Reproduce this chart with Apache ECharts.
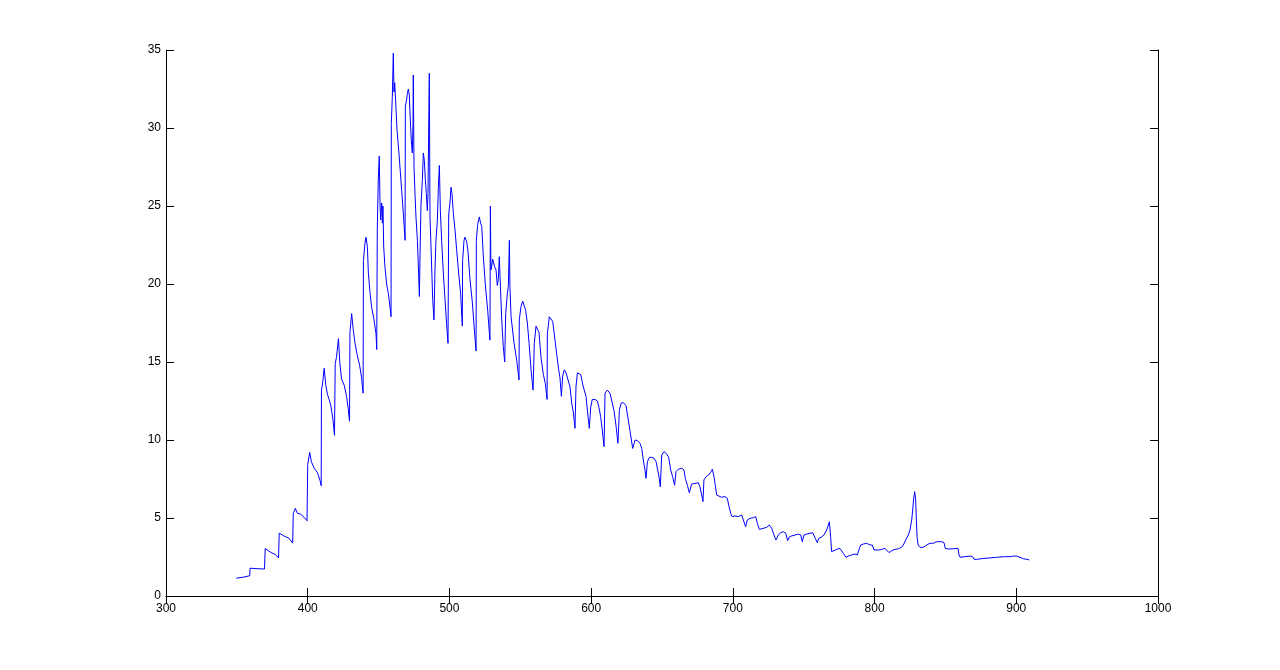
<!DOCTYPE html>
<html>
<head>
<meta charset="utf-8">
<script src="https://cdn.jsdelivr.net/npm/echarts@6/dist/echarts.min.js"></script>
<style>
  html, body { margin: 0; padding: 0; background: #fff; }
  #spectrumChart { width: 1280px; height: 670px; }
</style>
</head>
<body>
<div id="spectrumChart"></div>
<script>
// values
var wavelength = [
  349.6, 354.8, 359.1, 359.3, 364.3, 369.5, 370.0, 371.4, 373.8, 377.3, 379.4,
  379.9, 381.3, 383.2, 386.8, 389.4, 389.8, 391.3, 392.7, 395.0, 397.4, 399.5,
  400.0, 401.4, 402.6, 404.5, 406.9, 408.7, 409.5, 409.7, 410.6, 411.6, 412.8,
  414.0, 415.1, 416.3, 417.7, 418.9, 419.4, 420.3, 421.7, 422.7, 423.9, 425.8,
  427.4, 428.6, 429.5, 429.8, 431.0, 432.2, 433.4, 435.0, 436.6, 438.0, 439.1,
  439.3, 440.4, 441.1, 442.1, 442.8, 444.0, 445.1, 446.8, 448.2, 448.7, 449.1,
  449.8, 450.5, 451.0, 451.5, 452.2, 452.7, 453.1, 453.6, 454.5, 455.7, 456.9,
  458.1, 458.8, 459.0, 459.7, 460.4, 460.9, 461.4, 462.1, 463.0, 464.2, 465.1,
  466.3, 467.5, 468.7, 468.9, 469.8, 470.3, 471.0, 471.7, 472.4, 473.1, 473.8,
  474.3, 474.5, 475.0, 475.7, 476.4, 477.4, 478.1, 478.8, 479.2, 479.9, 480.9,
  481.6, 482.3, 483.0, 483.7, 484.4, 484.9, 485.4, 485.8, 486.3, 487.0, 488.2,
  489.1, 489.8, 490.5, 491.5, 492.2, 492.9, 493.6, 494.5, 495.7, 496.9, 498.1,
  499.0, 499.5, 500.4, 501.1, 501.8, 502.8, 503.9, 505.1, 506.5, 507.9, 509.1,
  509.3, 510.3, 511.0, 512.2, 513.1, 514.5, 516.2, 517.6, 518.8, 519.0, 519.9,
  521.1, 522.0, 522.8, 523.9, 525.3, 527.0, 528.4, 528.6, 528.9, 529.3, 529.8,
  530.5, 531.2, 531.9, 532.9, 533.8, 534.5, 535.2, 535.7, 536.9, 538.0, 539.0,
  539.7, 540.9, 541.6, 542.3, 542.7, 543.5, 545.6, 547.5, 549.1, 549.3, 550.5,
  551.7, 552.6, 553.8, 555.0, 556.2, 557.6, 559.0, 559.9, 561.1, 561.8, 563.2,
  564.6, 566.3, 567.7, 568.9, 569.1, 570.5, 571.7, 572.9, 574.5, 575.7, 577.1,
  578.0, 579.0, 579.9, 581.1, 582.3, 583.7, 585.1, 586.3, 587.4, 588.6, 589.3,
  590.3, 591.7, 592.6, 594.5, 596.4, 597.8, 598.7, 599.7, 600.8, 602.7, 604.4,
  605.5, 606.7, 607.9, 609.1, 609.8, 611.4, 613.3, 614.7, 616.1, 617.5, 618.9,
  619.9, 621.1, 622.7, 624.6, 626.0, 627.4, 629.3, 631.0, 632.6, 634.5, 635.7,
  636.8, 638.0, 638.7, 639.7, 641.1, 642.7, 644.4, 645.8, 647.2, 648.1, 648.8,
  649.8, 651.4, 653.3, 654.7, 656.1, 657.5, 658.9, 659.9, 661.5, 663.9, 665.5,
  666.5, 667.9, 669.3, 670.9, 673.3, 675.6, 676.8, 678.0, 678.9, 679.6, 681.1,
  682.9, 684.6, 685.5, 686.7, 687.6, 688.6, 689.8, 692.1, 694.5, 696.1, 697.3,
  698.5, 699.4, 701.5, 703.9, 706.2, 707.4, 709.0, 710.2, 712.1, 714.5, 716.1,
  717.3, 718.7, 719.2, 723.9, 725.7, 727.4, 729.0, 730.4, 732.1, 733.7, 735.6,
  737.3, 738.7, 739.9, 741.5, 743.9, 746.2, 747.9, 749.0, 750.2, 752.1, 754.4,
  756.3, 757.5, 758.7, 759.6, 760.6, 762.2, 764.3, 766.2, 767.4, 768.1, 769.0,
  769.7, 770.9, 773.3, 775.6, 776.8, 778.0, 779.8, 781.5, 783.8, 786.2, 787.8,
  788.6, 789.3, 790.2, 792.1, 794.4, 796.8, 798.4, 799.6, 800.3, 802.7, 805.0,
  807.4, 808.5, 810.2, 812.1, 814.4, 816.8, 819.1, 820.3, 822.0, 823.8, 825.0,
  826.2, 826.9, 827.6, 828.3, 829.0, 829.5, 830.0, 830.7, 832.1, 834.4, 836.8,
  839.1, 840.3, 841.5, 843.8, 847.4, 849.0, 849.9, 852.1, 855.6, 858.9, 859.6,
  860.3, 863.8, 867.4, 869.2, 870.2, 872.1, 876.8, 881.5, 886.2, 890.9, 895.6,
  897.9, 899.1, 900.3, 902.6, 905.0, 907.3, 909.2
]
var intensity = [
  1.14, 1.21, 1.30, 1.78, 1.75, 1.73, 3.04, 2.97, 2.80, 2.65, 2.44,
  4.03, 4.15, 3.85, 3.70, 3.39, 5.29, 5.62, 5.30, 5.25, 5.05, 4.82,
  8.42, 9.20, 8.60, 8.20, 7.90, 7.40, 7.07, 13.2, 13.7, 14.6, 13.5,
  12.9, 12.6, 12.2, 11.4, 10.3, 14.9, 15.3, 16.5, 14.9, 13.9, 13.5,
  12.8, 12.0, 11.2, 16.9, 18.1, 17.0, 16.2, 15.4, 14.8, 14.0, 13.0,
  21.5, 22.6, 23.0, 22.4, 20.7, 19.4, 18.5, 17.7, 16.8, 15.8, 23.5,
  26.7, 28.2, 25.2, 24.1, 25.2, 23.9, 25.0, 22.4, 21.1, 20.0, 19.4,
  18.5, 17.9, 30.3, 32.0, 34.8, 32.3, 32.9, 31.6, 29.9, 28.6, 27.5,
  26.0, 24.5, 22.8, 31.4, 31.8, 32.2, 32.5, 32.1, 30.5, 29.2, 28.4,
  30.3, 33.4, 27.5, 25.8, 24.3, 22.8, 21.1, 19.2, 21.5, 25.0, 26.7,
  28.4, 27.9, 26.7, 25.8, 24.7, 25.8, 30.3, 33.5, 24.3, 22.4, 19.0,
  17.7, 20.9, 22.8, 24.1, 26.2, 27.6, 24.7, 22.8, 20.7, 19.0, 17.3,
  16.2, 24.5, 25.2, 26.2, 25.8, 24.5, 23.5, 22.2, 20.7, 19.4, 17.3,
  21.5, 22.8, 23.0, 22.7, 22.1, 20.3, 18.8, 17.05, 15.7, 22.8, 23.8,
  24.3, 23.9, 23.7, 21.8, 20.0, 18.3, 16.6, 16.4, 25.0, 20.9, 21.1,
  21.6, 21.5, 21.1, 20.9, 19.9, 20.3, 21.75, 20.5, 17.7, 16.0, 15.0,
  18.1, 19.4, 19.9, 22.8, 19.8, 17.9, 16.2, 15.1, 13.85, 17.7, 18.55,
  18.9, 18.65, 18.3, 17.5, 16.2, 14.5, 13.2, 16.2, 17.3, 17.4, 16.9,
  15.3, 14.2, 13.6, 12.6, 16.8, 17.9, 17.9, 17.6, 16.4, 15.5, 14.5,
  14.0, 12.8, 14.1, 14.5, 14.3, 14.4, 13.4, 12.35, 11.8, 10.75, 13.4,
  14.3, 14.4, 14.2, 13.4, 12.8, 11.5, 10.75, 12.1, 12.6, 12.6, 12.5,
  12.1, 11.5, 10.6, 9.57, 13.0, 13.2, 13.0, 12.9, 11.9, 10.96, 9.79,
  11.9, 12.35, 12.4, 12.2, 11.4, 10.6, 9.46, 10.0, 9.96, 9.79, 9.46,
  8.72, 8.08, 7.54, 8.61, 8.89, 8.89, 8.83, 8.61, 7.97, 7.54, 7.00,
  9.04, 9.25, 9.10, 8.89, 8.08, 7.65, 7.10, 7.97, 8.12, 8.19, 8.08,
  7.54, 7.10, 6.62, 7.18, 7.22, 7.26, 7.00, 6.47, 6.05, 7.44, 7.65,
  7.76, 7.97, 8.12, 7.65, 7.10, 6.47, 6.37, 6.33, 6.37, 6.26, 5.73,
  5.30, 5.09, 5.13, 5.09, 5.19, 4.87, 4.44, 4.87, 4.98, 5.02, 5.09,
  4.66, 4.27, 4.34, 4.40, 4.55, 4.34, 3.91, 3.59, 3.91, 4.06, 4.12,
  4.02, 3.55, 3.80, 3.85, 3.91, 3.97, 3.91, 3.48, 3.91, 3.97, 4.02,
  4.06, 3.97, 3.59, 3.42, 3.70, 3.76, 3.91, 4.23, 4.55, 4.76, 3.80,
  2.84, 2.95, 2.99, 3.05, 2.95, 2.73, 2.48, 2.56, 2.63, 2.69, 2.63,
  2.52, 3.05, 3.27, 3.33, 3.38, 3.27, 3.27, 2.95, 2.84, 2.95, 2.99,
  3.05, 2.95, 2.78, 2.90, 2.99, 3.03, 3.12, 3.27, 3.59, 3.91, 4.23,
  4.87, 5.51, 6.26, 6.69, 6.15, 4.87, 3.80, 3.27, 3.12, 3.12, 3.27,
  3.38, 3.48, 3.38, 3.48, 3.48, 3.42, 3.05, 3.01, 3.03, 3.05, 2.63,
  2.48, 2.52, 2.56, 2.52, 2.35, 2.35, 2.41, 2.44, 2.48, 2.52, 2.52,
  2.56, 2.65, 2.56, 2.48, 2.39, 2.35, 2.31
]
var xTicks = [300, 400, 500, 600, 700, 800, 900, 1000]
var yTicks = [0, 5, 10, 15, 20, 25, 30, 35]

let chartDom = echarts.init(document.getElementById('spectrumChart'))

var lineData = wavelength.map(function (x, i) {
  return [x, intensity[i]]
})

var labelFont = {
  color: '#000',
  fontFamily: 'Liberation Sans, Arial, sans-serif',
  fontSize: 12,
  formatter: function (v) { return String(v) },
}
var axisLine = { show: true, lineStyle: { color: '#000', width: 1 } }
var tickInside = { show: true, inside: true, length: 8, lineStyle: { color: '#000' } }

function xAxisBase(pos, showLabel) {
  return {
    type: 'value',
    position: pos,
    min: xTicks[0],
    max: xTicks[xTicks.length - 1],
    interval: xTicks[1] - xTicks[0],
    axisLine: axisLine,
    axisTick: tickInside,
    axisLabel: Object.assign({ show: showLabel, margin: 7 }, labelFont),
    splitLine: { show: false },
  }
}
function yAxisBase(pos, showLabel) {
  return {
    type: 'value',
    position: pos,
    min: yTicks[0],
    max: yTicks[yTicks.length - 1],
    interval: yTicks[1] - yTicks[0],
    axisLine: axisLine,
    axisTick: tickInside,
    axisLabel: Object.assign({ show: showLabel, margin: 5 }, labelFont),
    splitLine: { show: false },
  }
}

var option = {
  backgroundColor: '#fff',
  animation: false,
  grid: {
    left: 166,
    right: 122,
    top: 50,
    bottom: 74,
    containLabel: false,
  },
  xAxis: [xAxisBase('bottom', true), xAxisBase('top', false)],
  yAxis: [yAxisBase('left', true), yAxisBase('right', false)],
  series: [
    {
      type: 'line',
      xAxisIndex: 0,
      yAxisIndex: 0,
      data: lineData,
      showSymbol: false,
      smooth: false,
      lineStyle: { color: '#0000ff', width: 1 },
      itemStyle: { color: '#0000ff' },
    },
  ],
}

chartDom.setOption(option)
</script>
</body>
</html>
